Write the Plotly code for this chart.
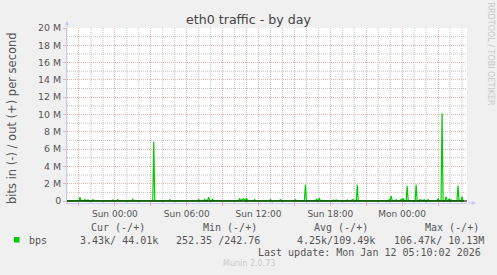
import plotly.graph_objects as go
import pandas as pd

# ---------------- data (Mbit/s) ----------------
out_time = [
    "2026-01-10 20:00", "2026-01-10 21:00", "2026-01-10 21:05", "2026-01-10 21:10",
    "2026-01-10 21:25", "2026-01-10 21:30", "2026-01-10 21:35", "2026-01-10 21:45",
    "2026-01-10 21:50", "2026-01-10 22:05", "2026-01-10 22:10", "2026-01-10 22:15",
    "2026-01-10 23:45", "2026-01-10 23:50", "2026-01-10 23:55", "2026-01-11 00:10",
    "2026-01-11 00:15", "2026-01-11 00:20", "2026-01-11 01:25", "2026-01-11 01:30",
    "2026-01-11 01:35", "2026-01-11 02:15", "2026-01-11 02:20", "2026-01-11 02:25",
    "2026-01-11 03:10", "2026-01-11 03:15", "2026-01-11 03:20", "2026-01-11 04:30",
    "2026-01-11 04:35", "2026-01-11 04:40", "2026-01-11 05:45", "2026-01-11 05:50",
    "2026-01-11 05:55", "2026-01-11 06:55", "2026-01-11 07:00", "2026-01-11 07:05",
    "2026-01-11 07:25", "2026-01-11 07:30", "2026-01-11 07:35", "2026-01-11 07:45",
    "2026-01-11 07:50", "2026-01-11 07:55", "2026-01-11 08:05", "2026-01-11 08:10",
    "2026-01-11 08:15", "2026-01-11 10:20", "2026-01-11 10:25", "2026-01-11 10:30",
    "2026-01-11 10:45", "2026-01-11 10:55", "2026-01-11 11:00", "2026-01-11 11:05",
    "2026-01-11 11:35", "2026-01-11 11:40", "2026-01-11 11:45", "2026-01-11 12:55",
    "2026-01-11 13:00", "2026-01-11 13:05", "2026-01-11 13:45", "2026-01-11 13:50",
    "2026-01-11 13:55", "2026-01-11 15:00", "2026-01-11 15:05", "2026-01-11 15:10",
    "2026-01-11 15:50", "2026-01-11 15:55", "2026-01-11 16:00", "2026-01-11 16:45",
    "2026-01-11 16:50", "2026-01-11 16:55", "2026-01-11 17:05", "2026-01-11 17:10",
    "2026-01-11 18:10", "2026-01-11 18:15", "2026-01-11 18:20", "2026-01-11 18:30",
    "2026-01-11 18:35", "2026-01-11 19:20", "2026-01-11 19:25", "2026-01-11 19:30",
    "2026-01-11 19:45", "2026-01-11 19:50", "2026-01-11 20:10", "2026-01-11 20:15",
    "2026-01-11 20:20", "2026-01-11 21:35", "2026-01-11 21:40", "2026-01-11 21:45",
    "2026-01-11 22:50", "2026-01-11 22:55", "2026-01-11 23:00", "2026-01-11 23:05",
    "2026-01-11 23:10", "2026-01-11 23:25", "2026-01-11 23:30", "2026-01-11 23:35",
    "2026-01-11 23:50", "2026-01-11 23:55", "2026-01-12 00:00", "2026-01-12 00:05",
    "2026-01-12 00:10", "2026-01-12 00:20", "2026-01-12 00:25", "2026-01-12 00:30",
    "2026-01-12 01:05", "2026-01-12 01:10", "2026-01-12 01:15", "2026-01-12 01:25",
    "2026-01-12 01:30", "2026-01-12 01:45", "2026-01-12 01:50", "2026-01-12 01:55",
    "2026-01-12 02:05", "2026-01-12 02:10", "2026-01-12 02:15", "2026-01-12 02:55",
    "2026-01-12 03:00", "2026-01-12 03:05", "2026-01-12 03:15", "2026-01-12 03:20",
    "2026-01-12 03:25", "2026-01-12 03:35", "2026-01-12 03:40", "2026-01-12 03:45",
    "2026-01-12 03:50", "2026-01-12 03:55", "2026-01-12 04:00", "2026-01-12 04:05",
    "2026-01-12 04:10", "2026-01-12 04:35", "2026-01-12 04:40", "2026-01-12 04:45",
    "2026-01-12 04:55", "2026-01-12 05:00", "2026-01-12 05:05", "2026-01-12 05:10",
]
out_mbps = [
    0.03, 0.03, 0.45, 0.03,
    0.03, 0.15, 0.03, 0.12,
    0.03, 0.03, 0.15, 0.03,
    0.03, 0.12, 0.03, 0.03,
    0.15, 0.03, 0.03, 0.20,
    0.03, 0.03, 0.10, 0.03,
    0.03, 6.85, 0.03, 0.03,
    0.15, 0.03, 0.03, 0.10,
    0.03, 0.03, 0.15, 0.03,
    0.03, 0.20, 0.03, 0.10,
    0.45, 0.08, 0.03, 0.20,
    0.03, 0.03, 0.30, 0.05,
    0.25, 0.05, 0.35, 0.03,
    0.03, 0.15, 0.03, 0.03,
    0.15, 0.03, 0.03, 0.15,
    0.03, 0.03, 0.15, 0.03,
    0.03, 1.88, 0.03, 0.03,
    0.20, 0.03, 0.30, 0.03,
    0.03, 0.12, 0.03, 0.12,
    0.03, 0.03, 0.12, 0.03,
    0.03, 0.15, 0.03, 1.88,
    0.03, 0.03, 0.10, 0.03,
    0.03, 0.15, 0.08, 0.60,
    0.03, 0.03, 0.15, 0.03,
    0.03, 0.20, 0.08, 0.30,
    0.03, 0.03, 1.75, 0.03,
    0.03, 1.88, 0.03, 0.03,
    0.15, 0.03, 0.15, 0.03,
    0.03, 0.15, 0.03, 0.03,
    0.30, 0.03, 0.03, 10.13,
    0.03, 0.03, 0.50, 0.08,
    0.03, 0.25, 0.03, 0.15,
    0.03, 0.03, 1.78, 0.03,
    0.03, 0.50, 0.03, 0.04,
]

in_time = [
    "2026-01-10 20:00", "2026-01-11 13:05", "2026-01-11 13:10", "2026-01-11 13:15",
    "2026-01-11 22:35", "2026-01-11 22:40", "2026-01-11 22:45", "2026-01-12 01:20",
    "2026-01-12 01:25", "2026-01-12 01:30", "2026-01-12 03:20", "2026-01-12 03:25",
    "2026-01-12 03:30", "2026-01-12 05:10",
]
in_mbps = [
    -0.004, -0.004, -0.10, -0.004,
    -0.004, -0.09, -0.004, -0.004,
    -0.10, -0.004, -0.004, -0.106,
    -0.004, -0.003,
]

x_start, x_end = "2026-01-10 20:00", "2026-01-12 05:25"
x_tick_vals = ["2026-01-10 21:00", "2026-01-11 00:00", "2026-01-11 03:00",
               "2026-01-11 06:00", "2026-01-11 09:00", "2026-01-11 12:00",
               "2026-01-11 15:00", "2026-01-11 18:00", "2026-01-11 21:00",
               "2026-01-12 00:00", "2026-01-12 03:00"]
x_tick_text = ["", "Sun 00:00", "", "Sun 06:00", "", "Sun 12:00", "",
               "Sun 18:00", "", "Mon 00:00", ""]
y_tick_vals = [0, 2, 4, 6, 8, 10, 12, 14, 16, 18, 20]
y_tick_text = ["0", "2 M", "4 M", "6 M", "8 M", "10 M", "12 M", "14 M",
               "16 M", "18 M", "20 M"]

legend_headers = ["Cur (-/+)", "Min (-/+)", "Avg (-/+)", "Max (-/+)"]
legend_values = ["3.43k/ 44.01k", "252.35 /242.76", "4.25k/109.49k", "106.47k/ 10.13M"]

# minor grid positions (hourly, every 1 M) that are not major positions
x_minor_vals = [t.strftime("%Y-%m-%d %H:%M")
                for t in pd.date_range("2026-01-10 20:00", "2026-01-12 05:00", freq="1h")
                if t.hour % 3 != 0]
y_minor_vals = [1, 3, 5, 7, 9, 11, 13, 15, 17, 19]

# ---------------- layout helpers ----------------
W, H = 497, 275
L, R, T, B = 67, 467, 28, 203
GREEN = "#00cc00"
TXT = "#555555"
MAJ = "#eab4b4"
MIN = "#c4c4c4"
AX = "#c8c8f0"
Y_RANGE = [-0.23, 20.0]
DOTS = "1px,1px"


def px(x):
    return (x - L) / (R - L)


def py(y):
    return (B - y) / (B - T)


fig = go.Figure()
fig.add_trace(go.Scatter(x=in_time, y=in_mbps, mode="lines", hoverinfo="skip",
                         line=dict(color=GREEN, width=1)))
fig.add_trace(go.Scatter(x=out_time, y=out_mbps, mode="lines", hoverinfo="skip",
                         line=dict(color=GREEN, width=1.2)))
fig.add_trace(go.Scatter(x=[x_start, x_end], y=[0, 0], mode="lines", hoverinfo="skip",
                         line=dict(color="black", width=1)))

fig.update_layout(
    width=W, height=H,
    margin=dict(l=L, r=W - R, t=T, b=H - B, pad=0),
    paper_bgcolor="#f0f0f0", plot_bgcolor="white",
    showlegend=False,
    font=dict(family="DejaVu Sans", size=9, color=TXT),
    title=dict(text="eth0 traffic - by day", x=0.5, xref="container", xanchor="center",
               y=1 - 20 / H, yref="container", yanchor="middle",
               font=dict(family="DejaVu Sans", size=12.6, color="#444444")),
    xaxis=dict(
        type="date", range=[x_start, x_end],
        tickmode="array", tickvals=x_tick_vals, ticktext=x_tick_text,
        showgrid=True, gridcolor=MAJ, griddash=DOTS, gridwidth=1,
        ticks="outside", ticklen=2, tickcolor=MAJ,
        showline=True, linecolor=AX, linewidth=1,
        zeroline=False, tickfont=dict(size=9, color=TXT),
    ),
    yaxis=dict(
        range=Y_RANGE,
        tickmode="array", tickvals=y_tick_vals, ticktext=y_tick_text,
        showgrid=True, gridcolor=MAJ, griddash=DOTS, gridwidth=1,
        ticks="outside", ticklen=3, tickcolor=MAJ,
        showline=True, linecolor=AX, linewidth=1,
        zeroline=False, tickfont=dict(size=9.4, color=TXT),
    ),
)

# gray minor gridlines (below the traces), placed through the axes
for xv in x_minor_vals:
    fig.add_shape(type="line", xref="x", yref="y", x0=xv, x1=xv,
                  y0=Y_RANGE[0], y1=Y_RANGE[1], layer="below",
                  line=dict(color=MIN, width=1, dash=DOTS))
for yv in y_minor_vals:
    fig.add_shape(type="line", xref="x", yref="y", x0=x_start, x1=x_end,
                  y0=yv, y1=yv, layer="below",
                  line=dict(color=MIN, width=1, dash=DOTS))

ann = []
# axis arrows
ann.append(dict(xref="paper", yref="paper", x=0, y=py(21), ax=0, ay=8, text="",
                showarrow=True, arrowhead=2, arrowsize=0.8, arrowwidth=1, arrowcolor=AX))
ann.append(dict(xref="paper", yref="paper", x=px(476), y=0, ax=-9, ay=0, text="",
                showarrow=True, arrowhead=2, arrowsize=0.8, arrowwidth=1, arrowcolor=AX))

# y-axis title
ann.append(dict(xref="paper", yref="paper", x=px(11.5), y=py(118.5),
                text="bits in (-) / out (+) per second", textangle=-90,
                showarrow=False, xanchor="center", yanchor="middle",
                font=dict(family="DejaVu Sans", size=11.5, color=TXT)))

mono = dict(family="DejaVu Sans Mono", size=10, color=TXT)
header_x = [89.3, 201, 312, 422.7]
value_x = [78, 174.3, 295, 392]
for hx, txt in zip(header_x, legend_headers):
    ann.append(dict(xref="paper", yref="paper", x=px(hx), y=py(227.5), text=txt,
                    showarrow=False, xanchor="left", yanchor="middle", font=mono))
for vx, txt in zip(value_x, legend_values):
    ann.append(dict(xref="paper", yref="paper", x=px(vx), y=py(240), text=txt,
                    showarrow=False, xanchor="left", yanchor="middle", font=mono))
ann.append(dict(xref="paper", yref="paper", x=px(26.7), y=py(240), text="bps",
                showarrow=False, xanchor="left", yanchor="middle", font=mono))
ann.append(dict(xref="paper", yref="paper", x=px(483), y=py(252), text="Last update: Mon Jan 12 05:10:02 2026",
                showarrow=False, xanchor="right", yanchor="middle", font=mono))
ann.append(dict(xref="paper", yref="paper", x=px(248.5), y=py(263.5), text="Munin 2.0.73",
                showarrow=False, xanchor="center", yanchor="middle",
                font=dict(family="DejaVu Sans", size=8, color="#c8c8c8")))
ann.append(dict(xref="paper", yref="paper", x=px(490), y=py(53.5), text="RRDTOOL / TOBI OETIKER",
                showarrow=False, xanchor="center", yanchor="middle", textangle=90,
                font=dict(family="DejaVu Sans", size=8, color="#c8c8c8")))
fig.update_layout(annotations=ann)

fig.add_shape(type="rect", xref="paper", yref="paper",
              x0=px(14), x1=px(19.5), y0=py(237), y1=py(242.5),
              fillcolor=GREEN, line=dict(width=0))

fig.write_html("out.html")
